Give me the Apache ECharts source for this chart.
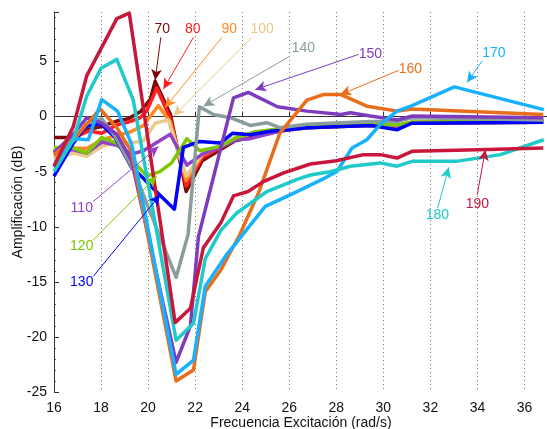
<!DOCTYPE html>
<html>
<head>
<meta charset="utf-8">
<script src="https://cdn.jsdelivr.net/npm/echarts@6/dist/echarts.min.js"></script>
<style>
  html, body { margin: 0; padding: 0; background: #fff; }
  #chart { width: 547px; height: 429px; }
</style>
</head>
<body>
<div id="chart"></div>
<script>
// curvas medidas: [frecuencia (rad/s), amplificacion (dB)]
const amp70 = [[16.0,-1.9],[16.9,-1.9],[17.4,-1.2],[18.0,-0.9],[18.67,-0.4],[19.16,-0.2],[19.7,0.5],[20.1,1.6],[20.3,3.2],[20.95,0.2],[21.62,-6.8],[22.3,-4.0],[23.0,-3.1],[23.7,-2.2],[24.34,-1.9],[25.6,-1.3],[26.75,-1.0],[28.2,-0.9],[29.5,-0.8],[30.6,-0.9],[31.2,-0.6],[36.8,-0.5]];
const amp80 = [[16.0,-3.15],[16.82,-1.9],[17.5,-1.3],[18.03,-1.5],[18.67,-0.75],[19.16,-0.5],[19.66,-0.1],[19.94,0.5],[20.37,2.6],[20.95,-0.2],[21.62,-6.3],[22.3,-3.7],[23.0,-2.9],[23.7,-2.0],[24.34,-1.7],[25.6,-1.2],[26.75,-0.95],[28.2,-0.85],[29.5,-0.75],[30.6,-0.85],[31.2,-0.55],[36.8,-0.4]];
const amp90 = [[16.0,-3.6],[16.82,-2.85],[17.39,-2.9],[18.03,-2.1],[18.67,-1.7],[19.23,-1.4],[19.8,-0.8],[20.44,1.0],[20.95,-0.5],[21.62,-5.8],[22.3,-3.5],[23.0,-2.8],[23.7,-1.9],[24.34,-1.6],[25.6,-1.15],[26.75,-0.9],[28.2,-0.8],[29.5,-0.7],[30.6,-0.8],[31.2,-0.5],[36.8,-0.35]];
const amp100 = [[16.0,-3.9],[16.82,-3.3],[17.39,-3.6],[18.03,-2.7],[18.67,-2.3],[19.23,-2.4],[19.8,-2.2],[20.3,-0.6],[20.86,-0.3],[21.62,-5.4],[22.3,-3.4],[23.0,-2.7],[23.7,-1.9],[24.34,-1.6],[25.6,-1.1],[26.75,-0.9],[28.2,-0.8],[29.5,-0.7],[30.6,-0.8],[31.2,-0.5],[36.8,-0.35]];
const amp110 = [[16.0,-3.0],[16.82,-3.0],[17.39,-3.3],[18.03,-2.3],[18.67,-2.6],[19.3,-3.4],[19.8,-3.1],[20.94,-1.6],[21.65,-4.4],[22.3,-3.4],[23.06,-2.8],[23.77,-2.1],[24.34,-2.0],[25.6,-1.3],[26.75,-1.0],[28.2,-0.85],[29.5,-0.75],[30.6,-0.85],[31.2,-0.55],[36.8,-0.4]];
const amp120 = [[16.0,-2.8],[16.82,-2.85],[17.39,-3.3],[18.03,-1.9],[18.67,-2.4],[19.94,-5.4],[20.5,-5.0],[21.0,-4.2],[21.65,-2.0],[22.2,-3.1],[23.06,-2.7],[23.77,-1.9],[24.5,-1.4],[25.6,-1.1],[26.75,-0.9],[28.2,-0.8],[29.5,-0.7],[30.6,-0.75],[31.2,-0.5],[36.8,-0.35]];
const amp130 = [[16.0,-5.4],[16.82,-2.4],[17.35,-0.9],[17.96,-0.6],[18.6,-1.9],[19.3,-4.6],[19.8,-5.6],[20.44,-7.0],[21.12,-8.4],[21.5,-2.8],[22.2,-2.25],[23.06,-2.4],[23.6,-1.5],[24.34,-1.64],[25.2,-1.33],[26.75,-1.0],[28.17,-0.9],[29.5,-0.8],[30.58,-1.2],[31.2,-0.6],[36.8,-0.5]];
const amp140 = [[16.0,-3.2],[16.82,-2.2],[17.39,-0.6],[18.03,-0.2],[18.6,-1.8],[19.37,-4.8],[21.19,-14.6],[21.7,-10.7],[22.18,0.9],[22.78,0.2],[23.5,-0.1],[24.34,-0.8],[25.05,-0.55],[25.6,-1.0],[26.75,-0.7],[28.17,-0.55],[29.5,-0.45],[30.58,-0.45],[31.2,-0.1],[36.8,-0.3]];
const amp150 = [[16.0,-3.3],[16.82,-1.6],[17.39,-0.1],[18.03,-0.6],[18.67,-1.6],[19.3,-4.0],[21.19,-22.3],[21.8,-19.0],[22.14,-10.9],[23.63,1.7],[24.26,2.2],[25.5,0.9],[26.75,0.5],[28.2,0.2],[28.6,0.35],[29.45,0.05],[30.6,-0.3],[31.2,0.05],[36.8,-0.1]];
const amp160 = [[16.0,-3.45],[16.9,-1.9],[17.3,-0.9],[17.96,0.7],[18.67,-1.0],[19.3,-3.2],[21.19,-24.0],[21.93,-23.0],[22.43,-15.9],[23.1,-13.9],[23.9,-10.7],[24.7,-6.9],[25.6,-1.5],[26.75,1.5],[27.45,2.0],[28.2,2.0],[29.3,0.95],[30.6,0.5],[31.2,0.7],[36.8,0.2]];
const amp170 = [[16.0,-4.6],[16.82,-2.0],[17.46,-2.1],[18.03,1.55],[18.7,0.5],[19.3,-2.5],[21.19,-23.4],[21.93,-22.1],[22.43,-15.4],[23.35,-12.5],[24.98,-8.15],[26.04,-7.1],[27.4,-5.7],[28.03,-4.97],[28.67,-2.85],[29.3,-2.1],[29.87,-0.7],[30.58,0.5],[31.22,1.0],[33.02,2.7],[36.82,0.64]];
const amp180 = [[16.0,-5.0],[16.82,-2.1],[17.39,1.85],[18.0,4.4],[18.67,5.2],[19.37,1.5],[21.19,-20.3],[21.93,-18.75],[22.43,-12.9],[23.1,-10.3],[23.77,-8.75],[25.05,-6.8],[26.33,-5.7],[26.9,-5.3],[27.74,-5.0],[28.6,-4.5],[29.87,-4.2],[30.58,-4.5],[31.22,-4.06],[33.1,-4.06],[34.98,-3.45],[36.82,-2.1]];
const amp190 = [[16.0,-4.5],[16.82,-0.9],[17.39,3.7],[18.67,8.9],[19.2,9.4],[21.15,-18.7],[21.8,-17.4],[22.35,-11.9],[23.1,-9.6],[23.63,-7.2],[24.25,-6.8],[24.9,-5.9],[25.76,-5.1],[26.9,-4.3],[28.0,-4.0],[29.16,-3.45],[29.87,-3.45],[30.58,-3.76],[31.22,-3.15],[34.0,-3.0],[36.8,-2.85]];

const curveNames = ['70','80','90','100','110','120','130','140','150','160','170','180','190'];
const curveData = [amp70, amp80, amp90, amp100, amp110, amp120, amp130, amp140, amp150, amp160, amp170, amp180, amp190];
const curveColors = ['#7d0a0a','#ff1e1e','#ff8a22','#e9c98c','#9141cc','#7cc800','#0000ff','#8a9d9d','#7f3bc0','#e86e1c','#17b1ff','#1fcaca','#c8173b'];

// etiquetas con flecha: [texto x, texto y, inicio x, inicio y, punta x, punta y]
const notes = [
  [20.6, 7.95, 20.54, 7.2, 20.3, 3.3],
  [21.9, 7.95, 21.93, 7.2, 20.65, 2.5],
  [23.45, 7.95, 23.14, 7.2, 20.72, 0.8],
  [24.85, 7.95, 24.41, 7.2, 21.08, 0.05],
  [17.18, -8.3, 17.67, -7.7, 20.44, -2.7],
  [17.18, -11.75, 17.67, -11.2, 20.37, -5.4],
  [17.18, -15.0, 17.67, -14.5, 20.51, -7.1],
  [26.6, 6.25, 26.04, 5.5, 22.35, 0.95],
  [29.45, 5.65, 28.95, 5.65, 24.55, 2.45],
  [31.15, 4.35, 30.65, 4.2, 28.17, 2.0],
  [34.7, 5.75, 34.2, 5.05, 33.56, 3.1],
  [32.3, -8.9, 32.31, -8.3, 32.78, -4.6],
  [34.0, -7.9, 33.99, -7.1, 34.34, -3.0]
];

const font = '"Liberation Sans", Arial, sans-serif';
const chart = echarts.init(document.getElementById('chart'));

const series = curveNames.map((name, i) => {
  const n = notes[i];
  return {
    name: name,
    type: 'line',
    data: curveData[i],
    showSymbol: false,
    symbol: 'none',
    silent: true,
    lineStyle: { color: curveColors[i], width: 3.5, join: 'round' },
    markLine: {
      silent: true,
      symbol: 'arrow',
      symbolSize: 10,
      label: { show: false },
      lineStyle: { color: curveColors[i], width: 1, type: 'solid' },
      data: [[
        { coord: [n[2], n[3]], symbol: 'none' },
        { coord: [n[4], n[5]], symbol: 'arrow', symbolSize: [8, 11] }
      ]]
    },
    markPoint: {
      silent: true,
      symbol: 'circle',
      symbolSize: 0,
      label: {
        show: true,
        position: 'inside',
        formatter: name,
        color: curveColors[i],
        fontFamily: font,
        fontSize: 14
      },
      data: [{ coord: [n[0], n[1]] }]
    }
  };
});

chart.setOption({
  animation: false,
  grid: { left: 54, top: 12, width: 494, bottom: 37, outerBoundsMode: 'none', containLabel: false },
  xAxis: {
    type: 'value',
    min: 16,
    max: 37,
    interval: 2,
    name: 'Frecuencia Excitación (rad/s)',
    nameLocation: 'middle',
    nameGap: 24,
    nameMoveOverlap: false,
    nameTextStyle: { color: '#111', fontFamily: font, fontSize: 14 },
    axisLine: { lineStyle: { color: '#333', width: 1 } },
    axisTick: { inside: true, length: 5, lineStyle: { color: '#333' } },
    axisLabel: { color: '#111', fontFamily: font, fontSize: 14, margin: 9, showMaxLabel: false },
    splitLine: { show: true, lineStyle: { color: '#777', type: [1, 3], width: 1 } }
  },
  yAxis: {
    type: 'value',
    min: -25,
    max: 9.5,
    interval: 5,
    name: 'Amplificación (dB)',
    nameLocation: 'middle',
    nameGap: 29,
    nameMoveOverlap: false,
    nameTextStyle: { color: '#111', fontFamily: font, fontSize: 14 },
    axisLine: { show: true, lineStyle: { color: '#333', width: 1 } },
    axisTick: { show: true, inside: true, length: 5, lineStyle: { color: '#333' } },
    minorTick: { show: true, splitNumber: 5, length: 2, lineStyle: { color: '#555' } },
    axisLabel: { color: '#111', fontFamily: font, fontSize: 14, margin: 7, showMaxLabel: false },
    splitLine: { show: false }
  },
  series: series
});
</script>
</body>
</html>
